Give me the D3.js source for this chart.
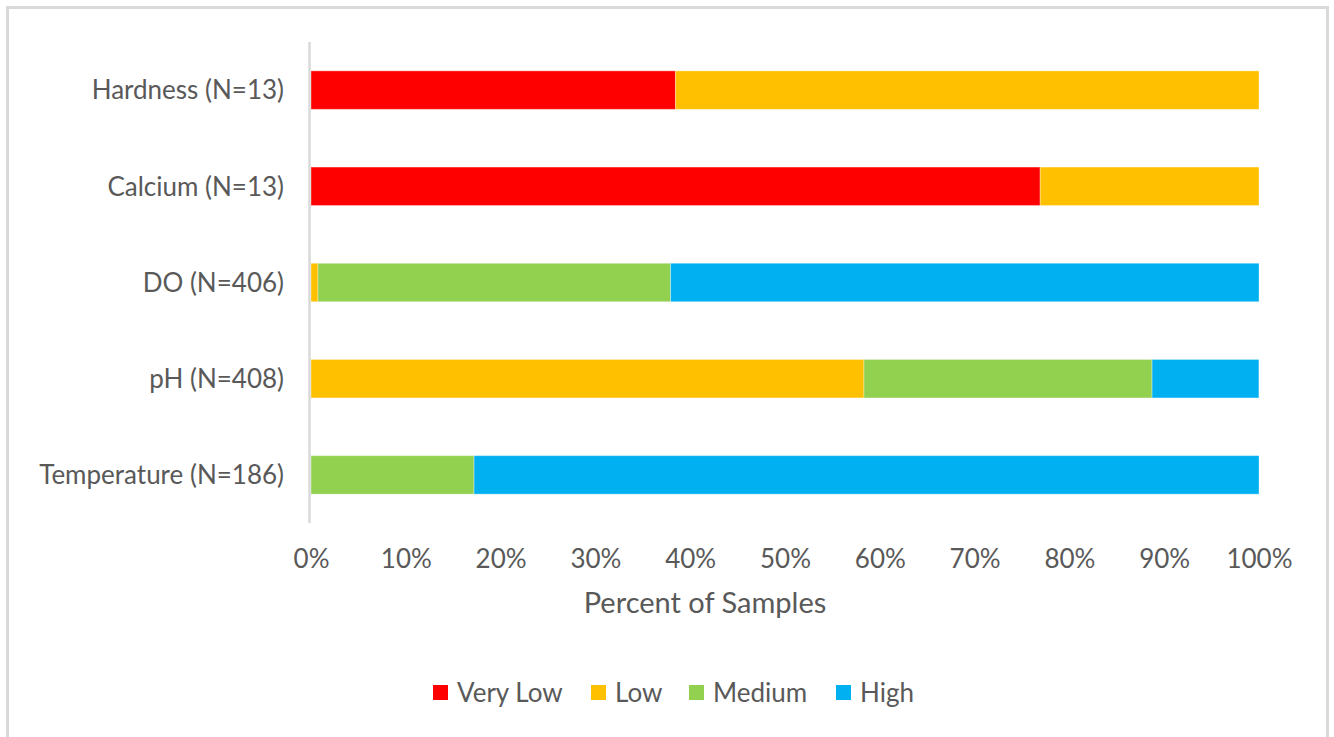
<!DOCTYPE html>
<html>
<head>
<meta charset="utf-8">
<script src="https://cdn.jsdelivr.net/npm/d3@7"></script>
<style>
  html, body { margin: 0; padding: 0; background: #fff; }
  svg { display: block; }
  text { font-family: "Lato", "Open Sans", sans-serif; fill: #595959; }
</style>
</head>
<body>
<svg id="chart" width="1334" height="737"></svg>
<script>
// Parameters and their sample counts (top to bottom)
const categories = ["Hardness (N=13)", "Calcium (N=13)", "DO (N=406)", "pH (N=408)", "Temperature (N=186)"];
const seriesNames = ["Very Low", "Low", "Medium", "High"];
const seriesColors = ["#ff0000", "#ffc000", "#92d050", "#00b0f0"];

// Percent of samples in each class, per parameter
const veryLow = [38.46, 76.92, 0, 0, 0];
const low     = [61.54, 23.08, 0.74, 58.33, 0];
const medium  = [0, 0, 37.19, 30.39, 17.20];
const high    = [0, 0, 62.07, 11.27, 82.80];

const xTicks = [0, 10, 20, 30, 40, 50, 60, 70, 80, 90, 100];

const svg = d3.select("#chart");

// outer frame
svg.append("rect")
  .attr("x", 7.5).attr("y", 7.5)
  .attr("width", 1320).attr("height", 740)
  .attr("fill", "#fff").attr("stroke", "#d9d9d9").attr("stroke-width", 3);

const plot = { left: 311, right: 1259, top: 42, bottom: 523 };

const x = d3.scaleLinear().domain([0, 100]).range([plot.left, plot.right]);
const y = d3.scaleBand().domain(categories).range([plot.top, plot.bottom]).paddingInner(0.6).paddingOuter(0.3);

const rows = categories.map((c, i) => ({ cat: c, vals: [veryLow[i], low[i], medium[i], high[i]] }));
const stack = d3.stack().keys([0, 1, 2, 3]).value((d, k) => d.vals[k]);
const layers = stack(rows);

svg.append("g").selectAll("g")
  .data(layers)
  .join("g")
  .attr("fill", (d, i) => seriesColors[i])
  .selectAll("rect")
  .data(d => d)
  .join("rect")
  .filter(d => d[1] - d[0] > 0)
  .attr("x", d => x(d[0]))
  .attr("width", d => x(d[1]) - x(d[0]))
  .attr("y", d => y(d.data.cat))
  .attr("height", y.bandwidth())
  .attr("stroke", "#ffffff")
  .attr("stroke-opacity", 0.35)
  .attr("stroke-width", 1);

// vertical category axis line
svg.append("line")
  .attr("x1", plot.left - 1.5).attr("x2", plot.left - 1.5)
  .attr("y1", plot.top).attr("y2", plot.bottom)
  .attr("stroke", "#d9d9d9").attr("stroke-width", 2.5);

// category labels
const yAxis = d3.axisLeft(y).tickSize(0).tickPadding(27);
const yg = svg.append("g").attr("transform", `translate(${plot.left},0)`).call(yAxis);
yg.select(".domain").remove();
yg.selectAll("text").style("font-size", "26px").attr("fill", "#595959").attr("dy", "0.36em");

// percent axis labels
const xAxis = d3.axisBottom(x).tickValues(xTicks).tickFormat(d => d + "%").tickSize(0).tickPadding(0);
const xg = svg.append("g").attr("transform", `translate(0,${plot.bottom + 27})`).call(xAxis);
xg.select(".domain").remove();
xg.selectAll("text").style("font-size", "26px").attr("fill", "#595959").attr("dy", "0.71em");

// axis title
svg.append("text")
  .attr("x", 705).attr("y", 613)
  .attr("text-anchor", "middle")
  .style("font-size", "29px")
  .text("Percent of Samples");

// legend
const legendX = [433, 591, 689, 836];
const lg = svg.append("g").selectAll("g").data(seriesNames).join("g")
  .attr("transform", (d, i) => `translate(${legendX[i]},685)`);
lg.append("rect").attr("width", 15).attr("height", 15).attr("fill", (d, i) => seriesColors[i]);
lg.append("text").attr("x", 24).attr("y", 8).attr("dy", "0.36em")
  .style("font-size", "26px").text(d => d);
</script>
</body>
</html>
